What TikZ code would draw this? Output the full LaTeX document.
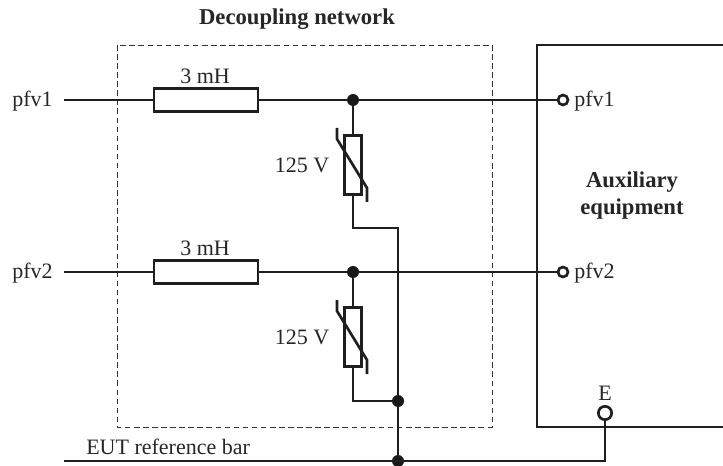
\documentclass[tikz,border=0pt]{standalone}
\usepackage{fontspec}
\setmainfont{Liberation Serif}
\tikzset{
    wire/.style={line width=2pt, black!88},
    part/.style={draw, wire, fill=white, inner sep=0pt},
    junction/.style={circle, fill=black!90, inner sep=0pt, minimum size=9pt},
    terminal/.style={circle, draw, wire, fill=white, inner sep=0pt, minimum size=7.5pt},
    txt/.style={inner sep=0pt, font=\fontsize{16.5}{18}\selectfont, text=black!85},
    boldtxt/.style={txt, align=center, font=\fontsize{17}{20.25}\selectfont\bfseries}
}
\begin{document}
\begin{tikzpicture}[x=0.75pt, y=-0.75pt]
        \useasboundingbox (0,0) rectangle (723,466);

        % Decoupling network frame and auxiliary equipment box
        \draw[black!80, line width=0.7pt, dash pattern=on 4.2pt off 2.6pt] (117,45) rectangle (492,427);
        \draw[wire] (723,45) -- (537,45) -- (537,427) -- (723,427);

        % The two lines, each with choke, varistor and terminal
        \foreach \n/\y/\yvar in {1/100/165, 2/272/337} {
            \coordinate (in\n) at (64,\y);
            \node[part, minimum width=78pt, minimum height=17pt] (choke\n) at (206,\y) {};
            \node[junction] (dot\n) at (353,\y) {};
            \node[terminal] (term\n) at (563,\y) {};
            \node[part, minimum width=12.5pt, minimum height=44pt] (var\n) at (353,\yvar) {};
            \draw[wire] (in\n) -- (choke\n);
            \draw[wire] (choke\n) -- (dot\n);
            \draw[wire] (dot\n) -- (term\n);
            \draw[wire] (dot\n) -- (var\n);
            \draw[wire] (337,\yvar-37) -- (337,\yvar-26) -- (367,\yvar+23) -- (367,\yvar+37);
            \node[txt] (in\n label) at (32.5,\y+1) {pfv\n};
            \node[txt, anchor=west] (term\n label) at (574,\y+1) {pfv\n};
            \node[txt] (choke\n label) at (205,\y-24) {3 mH};
            \node[txt, anchor=east] (var\n label) at (329.5,\yvar) {125 V};
        }

        % Return path to the reference bar
        \coordinate (bend1) at (398,228);
        \coordinate (barleft) at (64,461);
        \coordinate (barright) at (605,461);
        \node[junction] (dotvar) at (398,401) {};
        \node[junction] (dotbar) at (398,461) {};
        \node[terminal, minimum size=10pt] (termE) at (605,413) {};
        \draw[wire] (var1) |- (bend1) -- (dotvar);
        \draw[wire] (var2) |- (dotvar);
        \draw[wire] (dotvar) -- (dotbar);
        \draw[wire] (barleft) -- (barright) -- (termE);

        % Labels
        \node[boldtxt] (title) at (297,19) {Decoupling network};
        \node[boldtxt] (aux) at (632,195.5) {Auxiliary\\equipment};
        \node[txt, anchor=west] (barlabel) at (86,447) {EUT reference bar};
        \node[txt] (Elabel) at (605,393) {E};
\end{tikzpicture}
\end{document}
